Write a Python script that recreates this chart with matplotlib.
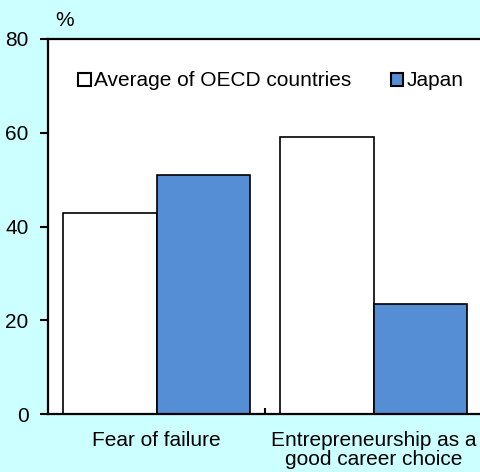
import matplotlib
matplotlib.use('Agg')
import matplotlib.pyplot as plt
from matplotlib.patches import Patch
import numpy as np

plt.rcParams['font.family'] = ['Liberation Sans', 'DejaVu Sans']
plt.rcParams['font.size'] = 15

# data
categories = ['Fear of failure', 'Entrepreneurship as a\ngood career choice']
oecd = [42.9, 59.1]
japan = [51.0, 23.5]
series_names = ['Average of OECD countries', 'Japan']

bg = '#ccffff'
blue = '#558ed5'

fig = plt.figure(figsize=(4.8, 4.72), dpi=100, facecolor=bg)
ax = fig.add_axes([48/480, 58/472, 434/480, 375/472])

x = np.arange(len(categories))
w = 0.433
ax.bar(x - w/2, oecd, w, color='white', edgecolor='black', linewidth=1.2)
ax.bar(x + w/2, japan, w, color=blue, edgecolor='black', linewidth=1.2)

ax.set_xlim(-0.5, 1.5)
ax.set_ylim(0, 80)
ax.set_yticks([0, 20, 40, 60, 80])
ax.tick_params(axis='y', direction='out', length=6, width=1.5, pad=8)
ax.set_xticks(x, categories)
for lab in ax.get_xticklabels():
    lab.set_linespacing(1.0)
ax.tick_params(axis='x', length=0, pad=12)
ax.set_xticks([0.5], minor=True)
ax.tick_params(axis='x', which='minor', direction='in', length=4, width=1.5)

for s in ['left', 'bottom', 'top']:
    ax.spines[s].set_linewidth(1.6)
ax.spines['right'].set_visible(False)

ax.text(0.016, 1.025, '%', transform=ax.transAxes, fontsize=15, ha='left', va='bottom')

handles = [Patch(facecolor='white', edgecolor='black', linewidth=1.5),
           Patch(facecolor=blue, edgecolor='black', linewidth=1.5)]
ax.legend(handles, series_names, ncol=2, frameon=False, loc='center left',
          bbox_to_anchor=(0.07, 0.888), handlelength=0.6, handleheight=0.6,
          handletextpad=0.15, columnspacing=1.9, borderpad=0, borderaxespad=0)

fig.savefig('out.png', dpi=100, facecolor=bg)
